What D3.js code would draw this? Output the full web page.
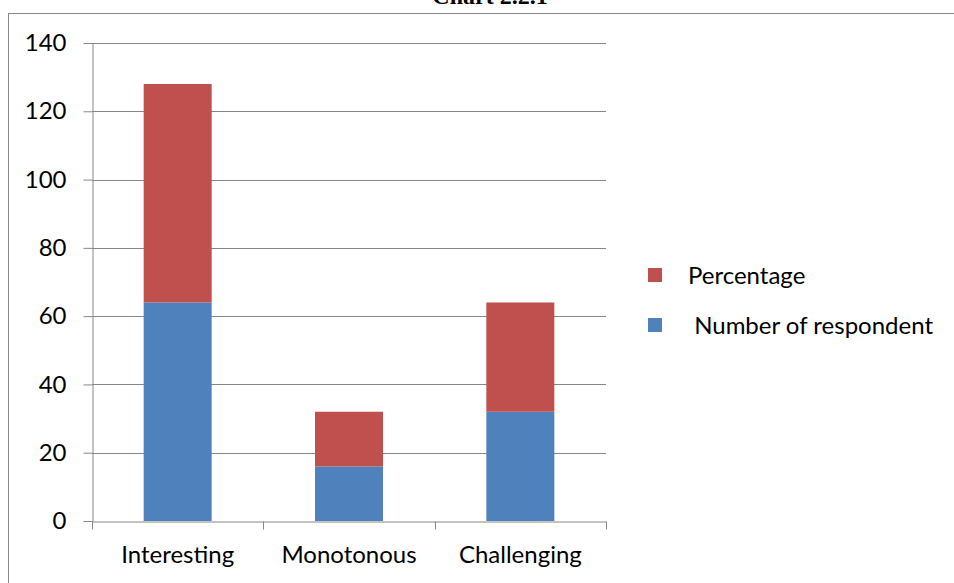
<!DOCTYPE html>
<html>
<head>
  <script src="https://cdn.jsdelivr.net/npm/d3@7"></script>
  <style>
    body { margin: 0; background: #fff; }
    text { font-family: Lato, 'Open Sans', sans-serif; fill: #000; }
    .axis path, .axis line { stroke: #878787; }
    .grid line { stroke: #878787; }
  </style>
</head>
<body>
  <svg id="chart"></svg>
  <script>
    var categories = ['Interesting', 'Monotonous', 'Challenging'];
    var respondents = [64, 16, 32];
    var percentage = [64, 16, 32];
    var yTicks = [0, 20, 40, 60, 80, 100, 120, 140];
    var seriesNames = ['Percentage', ' Number of respondent'];
    var colors = { resp: '#4F81BD', pct: '#C0504D' };

    var W = 954, H = 583;
    var m = { left: 92, right: 606, top: 43, bottom: 521 };

    var svg = d3.select('#chart').attr('width', W).attr('height', H);

    // title, cut off at top
    svg.append('text')
      .attr('x', 490).attr('y', 4)
      .attr('text-anchor', 'middle')
      .style('font-family', "'Liberation Serif', serif")
      .style('font-weight', 'bold')
      .style('font-size', '24px')
      .text('Chart 2.2.1');

    // outer border
    svg.append('rect')
      .attr('x', 8.5).attr('y', 13.5)
      .attr('width', 960).attr('height', 600)
      .attr('fill', 'none').attr('stroke', '#878787');

    var xb = d3.scaleBand().domain(categories).range([m.left, m.right]);
    var y = d3.scaleLinear().domain([0, 140]).range([m.bottom, m.top]);

    // gridlines
    svg.append('g').attr('class', 'grid')
      .selectAll('line').data(yTicks.slice(1)).enter().append('line')
      .attr('x1', m.left).attr('x2', m.right)
      .attr('y1', d => Math.round(y(d)) + 0.5).attr('y2', d => Math.round(y(d)) + 0.5);

    // bars
    var bw = 68;
    svg.selectAll('rect.resp').data(categories).enter().append('rect')
      .attr('x', d => xb(d) + xb.bandwidth() / 2 - bw / 2)
      .attr('y', (d, i) => y(respondents[i]))
      .attr('width', bw)
      .attr('height', (d, i) => y(0) - y(respondents[i]))
      .attr('fill', colors.resp);

    svg.selectAll('rect.pct').data(categories).enter().append('rect')
      .attr('x', d => xb(d) + xb.bandwidth() / 2 - bw / 2)
      .attr('y', (d, i) => y(respondents[i] + percentage[i]))
      .attr('width', bw)
      .attr('height', (d, i) => y(respondents[i]) - y(respondents[i] + percentage[i]))
      .attr('fill', colors.pct);

    // y axis
    var yAxis = svg.append('g').attr('class', 'axis')
      .attr('transform', 'translate(' + (m.left + 0.5) + ',0)')
      .call(d3.axisLeft(y).tickValues(yTicks).tickSize(9).tickPadding(17).tickSizeOuter(0));
    yAxis.selectAll('text').style('font-size', '24px').style('font-family', 'Lato, sans-serif');

    // x axis
    var xAxis = svg.append('g').attr('class', 'axis')
      .attr('transform', 'translate(0,' + (m.bottom + 0.5) + ')')
      .call(d3.axisBottom(xb).tickSize(0).tickSizeOuter(0).tickPadding(24));
    xAxis.selectAll('text').style('font-size', '24px').style('font-family', 'Lato, sans-serif');
    xAxis.selectAll('.tick line').remove();
    xAxis.selectAll('line.sep').data(categories.concat([null])).enter().append('line')
      .attr('class', 'sep')
      .attr('x1', (d, i) => Math.round(i < categories.length ? xb(d) : m.right) + 0.5)
      .attr('x2', (d, i) => Math.round(i < categories.length ? xb(d) : m.right) + 0.5)
      .attr('y1', 0).attr('y2', 8)
      .attr('stroke', '#878787');

    // legend
    var legend = svg.append('g');
    var legColors = [colors.pct, colors.resp];
    seriesNames.forEach(function (name, i) {
      var ly = 275 + i * 50;
      legend.append('rect')
        .attr('x', 648).attr('y', ly - 7).attr('width', 14).attr('height', 14)
        .attr('fill', legColors[i]);
      legend.append('text')
        .attr('x', 688).attr('y', ly + 9)
        .style('font-size', '24px')
        .style('white-space', 'pre')
        .text(name);
    });
  </script>
</body>
</html>
